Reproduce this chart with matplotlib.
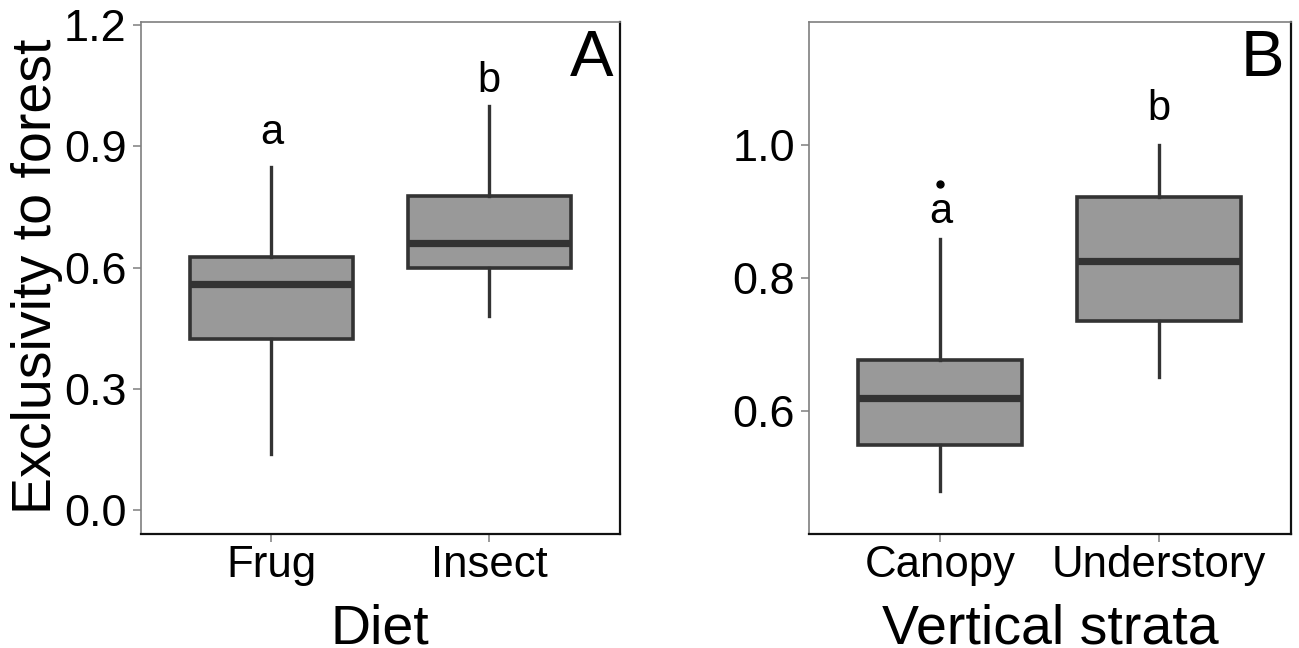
import matplotlib
matplotlib.use("Agg")
import matplotlib.pyplot as plt

plt.rcParams['font.family'] = ['Liberation Sans', 'DejaVu Sans']

# Panel A: diet
diet_cats = ['Frug', 'Insect']
diet_low = [0.139, 0.480]
diet_q1 = [0.424, 0.598]
diet_med = [0.560, 0.661]
diet_q3 = [0.626, 0.777]
diet_high = [0.850, 1.000]
diet_fliers = [[], []]
diet_letters = ['a', 'b']
diet_letter_y = [0.905, 1.035]

# Panel B: vertical strata
strata_cats = ['Canopy', 'Understory']
strata_low = [0.481, 0.651]
strata_q1 = [0.549, 0.736]
strata_med = [0.620, 0.825]
strata_q3 = [0.677, 0.922]
strata_high = [0.859, 1.000]
strata_fliers = [[0.941], []]
strata_letters = ['a', 'b']
strata_letter_y = [0.882, 1.037]

dark = '#333333'
fill = '#999999'
grey = '#7f7f7f'


def make_stats(low, q1, med, q3, high, fliers):
    return [dict(whislo=low[i], q1=q1[i], med=med[i], q3=q3[i],
                 whishi=high[i], fliers=fliers[i]) for i in range(len(low))]


def draw_panel(ax, cats, stats, letters, letter_y, ylim, yticks, ytlabels, tag):
    ax.bxp(stats, positions=[1, 2], widths=0.75, patch_artist=True,
           showcaps=False,
           boxprops=dict(facecolor=fill, edgecolor=dark, linewidth=2.6),
           medianprops=dict(color=dark, linewidth=5.2, solid_capstyle='butt'),
           whiskerprops=dict(color=dark, linewidth=2.4),
           flierprops=dict(marker='o', markersize=5, markerfacecolor='black',
                           markeredgecolor='black'))
    for i, (lab, y) in enumerate(zip(letters, letter_y)):
        ax.text(i + 1, y, lab, ha='center', va='baseline', fontsize=30)
    ax.text(0.987, 0.985, tag, transform=ax.transAxes, ha='right', va='top',
            fontsize=47)
    ax.set_xlim(0.4, 2.6)
    ax.set_ylim(*ylim)
    ax.set_xticks([1, 2])
    ax.set_xticklabels(cats, fontsize=31.5)
    ax.set_yticks(yticks)
    ax.set_yticklabels(ytlabels, fontsize=32.5)
    ax.tick_params(axis='both', direction='out', length=6, width=1.1,
                   color=grey, pad=4)
    ax.tick_params(axis='x', pad=2)
    ax.spines['left'].set_color(grey)
    ax.spines['top'].set_color(grey)
    ax.spines['left'].set_linewidth(1.2)
    ax.spines['top'].set_linewidth(1.2)
    ax.spines['bottom'].set_color('#111111')
    ax.spines['right'].set_color('#111111')
    ax.spines['bottom'].set_linewidth(1.6)
    ax.spines['right'].set_linewidth(1.6)


fig = plt.figure(figsize=(12.99, 6.48), dpi=100)
axA = fig.add_axes([0.1082, 0.1759, 0.3691, 0.7909])
axB = fig.add_axes([0.6228, 0.1759, 0.3707, 0.7909])

draw_panel(axA, diet_cats,
           make_stats(diet_low, diet_q1, diet_med, diet_q3, diet_high, diet_fliers),
           diet_letters, diet_letter_y, (-0.059, 1.209),
           [0.0, 0.3, 0.6, 0.9, 1.2], ['0.0', '0.3', '0.6', '0.9', '1.2'], 'A')
draw_panel(axB, strata_cats,
           make_stats(strata_low, strata_q1, strata_med, strata_q3, strata_high,
                      strata_fliers),
           strata_letters, strata_letter_y, (0.416, 1.185),
           [0.6, 0.8, 1.0], ['0.6', '0.8', '1.0'], 'B')

fig.text(37 / 1299, 1 - 276 / 648, 'Exclusivity to forest', rotation=90,
         ha='center', va='center', fontsize=40)
fig.text(380 / 1299, 1 - 643 / 648, 'Diet', ha='center', va='baseline',
         fontsize=40)
fig.text(1050 / 1299, 1 - 643 / 648, 'Vertical strata', ha='center',
         va='baseline', fontsize=40)

fig.savefig('out.png', dpi=100)
